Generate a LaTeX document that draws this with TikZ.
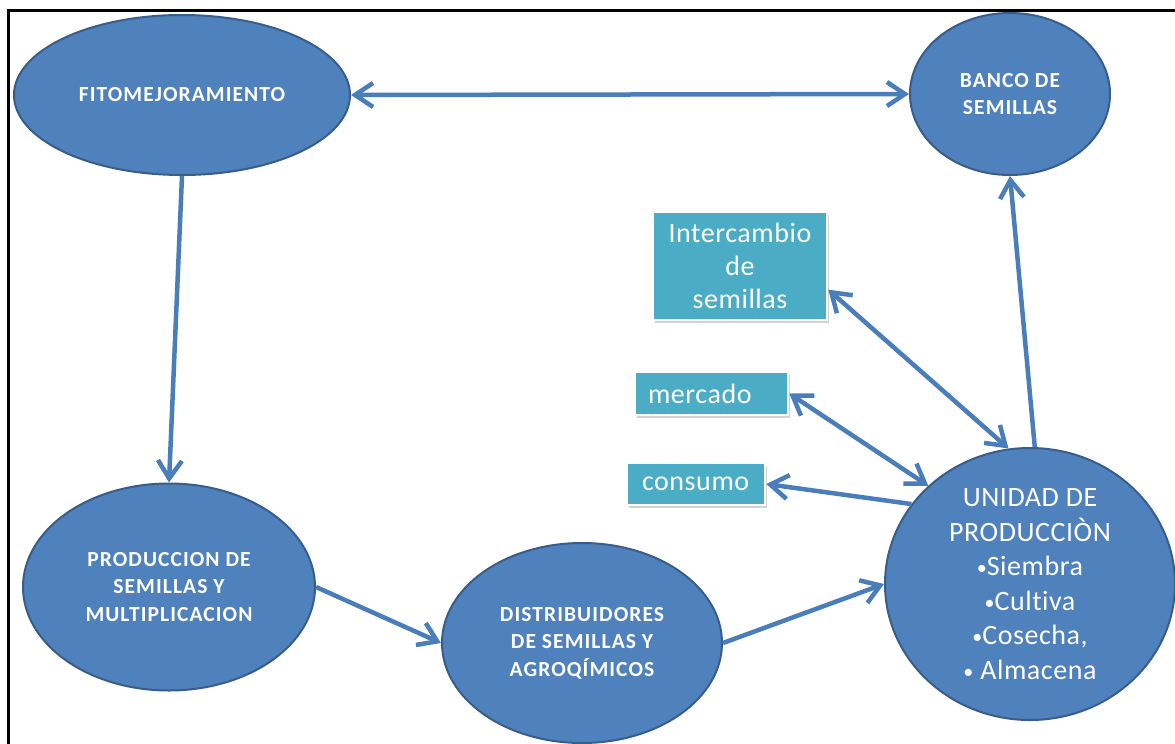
\documentclass[tikz,border=0pt]{standalone}
\usepackage{fontspec}
\setmainfont{Carlito}[Ligatures=NoCommon]
\usetikzlibrary{shapes.geometric,arrows.meta,shadows}
\definecolor{ovalfill}{HTML}{4F81BD}
\definecolor{ovaledge}{HTML}{385D8A}
\definecolor{linkblue}{HTML}{4A7EBB}
\definecolor{boxfill}{HTML}{4BACC6}
\newcommand{\dotmark}{{\fontsize{20}{20}\selectfont\raisebox{1pt}{•}}}
\begin{document}
\begin{tikzpicture}[x=1pt,y=-1pt,
  oval/.style={ellipse, fill=ovalfill, draw=ovaledge, line width=2pt,
    inner sep=0pt, text=white, align=center},
  ovaltext/.style={font=\fontsize{21.5}{27.5}\selectfont\bfseries\addfontfeatures{LetterSpace=5}},
  unittext/.style={font=\fontsize{28}{34.5}\selectfont\addfontfeatures{LetterSpace=2}},
  tagbox/.style={rectangle, fill=boxfill, draw=white, line width=2.5pt,
    text=white, font=\fontsize{28}{33}\selectfont\addfontfeatures{LetterSpace=2}, inner ysep=0pt,
    drop shadow={shadow xshift=2pt, shadow yshift=-3pt, opacity=0.35}},
  barb/.tip={Straight Barb[length=18pt,width=24pt]},
  link/.style={draw=linkblue, line width=4.5pt, -barb},
  dlink/.style={draw=linkblue, line width=4.5pt, barb-barb},
]
\useasboundingbox (0,0) rectangle (1175,744);
\fill[white] (0,0) rectangle (1175,744);
% frame
\draw[line width=3pt] (8,744) -- (8,10) -- (1175,10);

% ovals
\node[oval, ovaltext, minimum width=336pt, minimum height=160pt] (fito) at (182,95) {FITOMEJORAMIENTO};
\node[oval, ovaltext, minimum width=200pt, minimum height=162pt] (banco) at (1010,94) {BANCO DE\\SEMILLAS};
\node[oval, ovaltext, minimum width=292pt, minimum height=207pt] (prod) at (169,587) {PRODUCCION DE\\SEMILLAS Y\\MULTIPLICACION};
\node[oval, ovaltext, minimum width=280pt, minimum height=200pt] (dist) at (582,643) {DISTRIBUIDORES\\DE SEMILLAS Y\\AGROQÍMICOS};
\node[oval, unittext, minimum width=290pt, minimum height=272pt] (unidad) at (1030,584) {UNIDAD DE\\PRODUCCIÒN\\\dotmark Siembra\\\dotmark Cultiva\\\dotmark Cosecha,\\\dotmark\ Almacena};

% tag boxes
\node[tagbox, minimum width=174pt, minimum height=108pt, text width=156pt, align=center] (inter) at (740,266) {Intercambio\\de\\ semillas};
\node[tagbox, minimum height=43pt, text width=127pt, inner xsep=13pt, align=left] (mercado) at (711.5,393.5) {mercado};
\node[tagbox, minimum height=42pt, text width=108pt, inner xsep=15pt, align=left] (consumo) at (696,484) {consumo};

% connectors
\draw[dlink] (fito.east) -- (banco.west);
\draw[link] (fito.south) -- (prod.north);
\draw[link] (prod.east) -- (dist.west);
\draw[link] (dist.east) -- (unidad.west);
\draw[link] (unidad.88) -- (banco.south);
\draw[dlink] (unidad.99) -- (inter.-15);
\draw[dlink] (unidad.136) -- (mercado.east);
\draw[link] (unidad.146) -- (consumo.east);
\end{tikzpicture}
\end{document}
